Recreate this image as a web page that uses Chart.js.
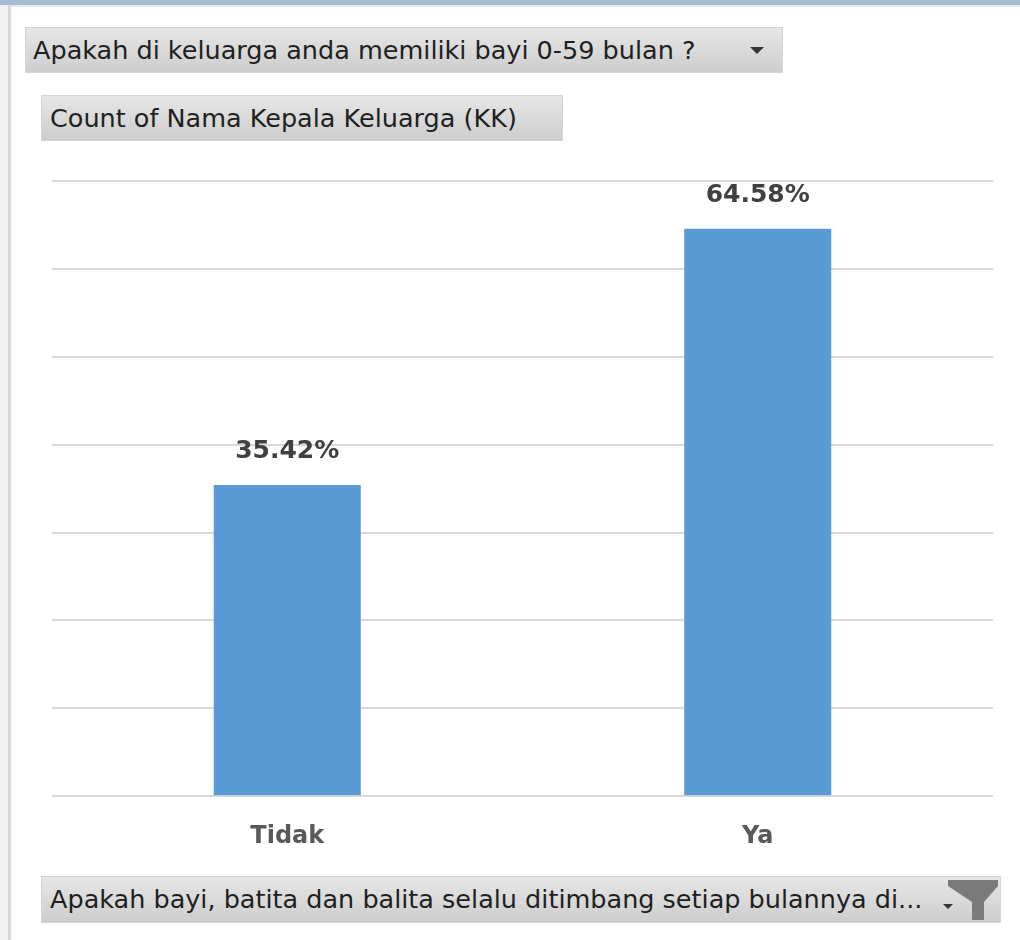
<!DOCTYPE html>
<html>
<head>
<meta charset="utf-8">
<script src="https://cdn.jsdelivr.net/npm/chart.js@4.4.1/dist/chart.umd.min.js"></script>
<style>
  html, body { margin: 0; padding: 0; background: #fff; }
  body { width: 1020px; height: 940px; position: relative; overflow: hidden; font-family: "DejaVu Sans", sans-serif; }
  .topband { position: absolute; left: 0; top: 0; width: 1020px; height: 5px; background: #a7bad0; }
  .topband2 { position: absolute; left: 0; top: 5px; width: 1020px; height: 2px; background: #e4e8ee; }
  .leftband { position: absolute; left: 0; top: 5px; width: 8px; height: 935px; background: #f0f0f0; }
  .leftline { position: absolute; left: 8px; top: 5px; width: 3px; height: 935px; background: #d9d9d9; }
  .btn { position: absolute; box-sizing: border-box; background: linear-gradient(#e6e6e6, #cdcdcd);
         border: 1px solid #d4d4d4; color: #1f1f1f; font-size: 25.5px; line-height: 44px; white-space: nowrap; }
  .arrow { position: absolute; width: 0; height: 0; border-left: 7px solid transparent; border-right: 7px solid transparent; border-top: 7px solid #333; }
  #wrap { position: absolute; left: 0; top: 150px; width: 1020px; height: 719px; }
</style>
</head>
<body>
<div class="topband"></div>
<div class="topband2"></div>
<div class="leftband"></div>
<div class="leftline"></div>

<div class="btn" style="left:25px; top:27px; width:758px; height:46px; padding-left:7px;">Apakah di keluarga anda memiliki bayi 0-59 bulan ?</div>
<div class="arrow" style="left:750px; top:47px;"></div>

<div class="btn" style="left:41px; top:95px; width:522px; height:46px; padding-left:8px;">Count of Nama Kepala Keluarga (KK)</div>

<div class="btn" style="left:41px; top:876px; width:960px; height:47px; padding-left:8px;">Apakah bayi, batita dan balita selalu ditimbang setiap bulannya di...</div>
<div class="arrow" style="left:943px; top:904px; border-left-width:5px; border-right-width:5px; border-top-width:5px;"></div>
<svg style="position:absolute; left:946px; top:878px;" width="54" height="44">
  <path d="M2 2 L52 2 L52 8 L38 24 L38 42 L26 42 L26 24 L2 8 Z" fill="#7a7a7a"/>
</svg>

<div id="wrap"><canvas id="chart"></canvas></div>

<script>
// dados
const categories = ['Tidak', 'Ya'];
const percentValues = [35.42, 64.58];
const axisMax = 70;
const axisStep = 10;

// rótulos em cima das barras
const barLabels = {
    id: 'barLabels',
    afterDatasetsDraw(chart) {
        const ctx = chart.ctx;
        const meta = chart.getDatasetMeta(0);
        ctx.save();
        ctx.font = 'bold 25px "DejaVu Sans"';
        ctx.fillStyle = '#404040';
        ctx.textAlign = 'center';
        ctx.textBaseline = 'middle';
        meta.data.forEach((bar, i) => {
            ctx.fillText(percentValues[i].toFixed(2) + '%', bar.x, bar.y - 33);
        });
        ctx.restore();
    }
};

const ctx = document.getElementById('chart').getContext('2d');
new Chart(ctx, {
    type: 'bar',
    data: {
        labels: categories,
        datasets: [{
            data: percentValues,
            backgroundColor: '#5b9bd5',
            borderWidth: 0,
            categoryPercentage: 1,
            barPercentage: 0.3125
        }]
    },
    options: {
        responsive: true,
        maintainAspectRatio: false,
        animation: false,
        layout: { padding: { top: 31, left: 52, right: 27, bottom: 0 } },
        plugins: { legend: { display: false }, tooltip: { enabled: false } },
        scales: {
            y: {
                min: 0,
                max: axisMax,
                ticks: { display: false, stepSize: axisStep },
                grid: { color: '#d9d9d9', lineWidth: 2, drawTicks: false },
                border: { display: false }
            },
            x: {
                grid: { display: false },
                border: { display: false },
                ticks: { color: '#595959', font: { family: 'DejaVu Sans', size: 24, weight: 'bold' }, padding: 18 }
            }
        }
    },
    plugins: [barLabels]
});
</script>
</body>
</html>
